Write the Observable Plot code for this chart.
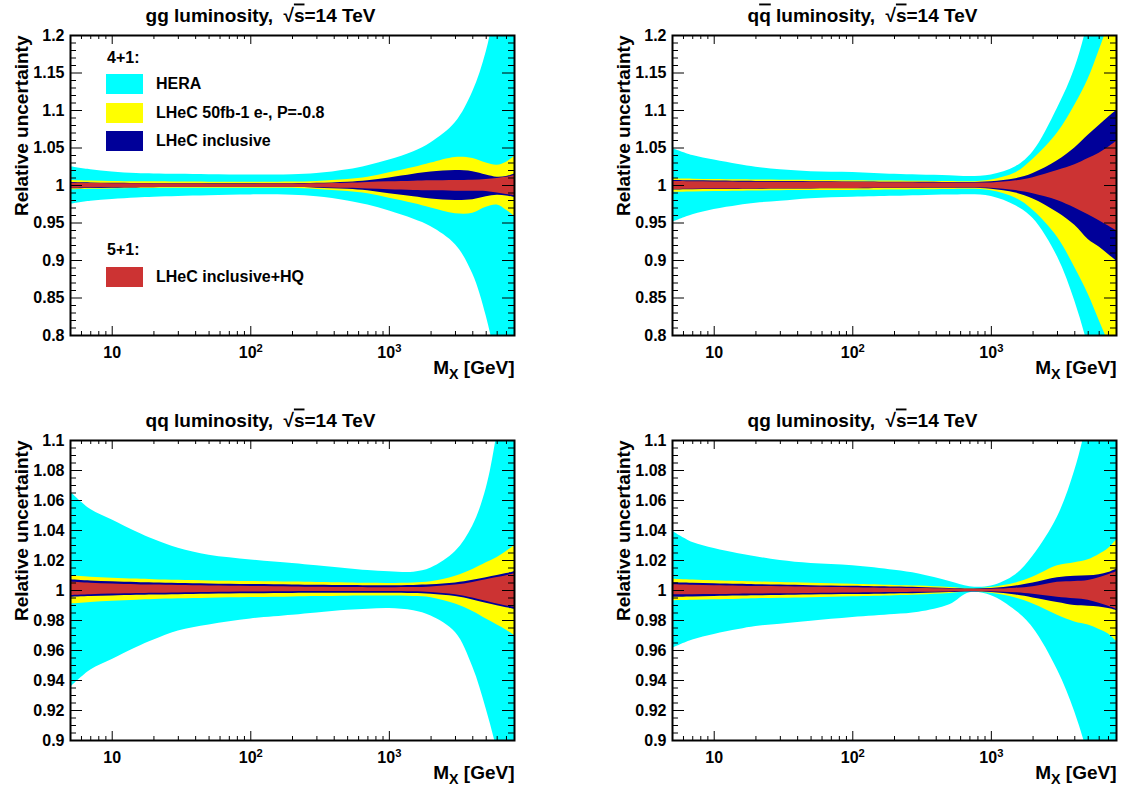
<!DOCTYPE html>
<html>
<head>
<meta charset="utf-8">
<script src="https://cdn.jsdelivr.net/npm/d3@7"></script>
<script src="https://cdn.jsdelivr.net/npm/@observablehq/plot@0.6"></script>
<style>
  body { margin: 0; background: #fff; font-family: "Liberation Sans", Arial, sans-serif; }
  #page { position: relative; width: 1121px; height: 787px; overflow: hidden; background: #fff; }
  .panel { position: absolute; }
  .leg { position: absolute; font-weight: bold; font-size: 16px; line-height: 1; white-space: nowrap; color: #000; }
  .sw { position: absolute; width: 37px; height: 20px; }
</style>
</head>
<body>
<div id="page"></div>
<script>
// ---------------- data ----------------
const M = [5, 7, 10, 15, 20, 30, 50, 100, 200, 300, 500, 700, 1000, 1500, 2000, 3000, 4000, 5000, 6000, 7000, 8000];

// gg luminosity
const ggHeraHi = [1.025, 1.021, 1.018, 1.016, 1.0155, 1.015, 1.0145, 1.014, 1.0145, 1.016, 1.021, 1.0265, 1.034, 1.045, 1.057, 1.084, 1.125, 1.178, 1.25, 1.33, 1.42];
const ggHeraLo = [0.975, 0.979, 0.9815, 0.9835, 0.9845, 0.9855, 0.9865, 0.9875, 0.987, 0.985, 0.9795, 0.974, 0.966, 0.955, 0.945, 0.921, 0.882, 0.826, 0.76, 0.69, 0.62];
const ggYelHi = [1.0067, 1.006, 1.0055, 1.005, 1.005, 1.0047, 1.0045, 1.0044, 1.0046, 1.0055, 1.008, 1.011, 1.017, 1.024, 1.030, 1.0375, 1.036, 1.030, 1.027, 1.031, 1.039];
const ggYelLo = [0.9943, 0.995, 0.9955, 0.996, 0.996, 0.9962, 0.9963, 0.9964, 0.9962, 0.9948, 0.992, 0.989, 0.983, 0.976, 0.970, 0.9625, 0.963, 0.971, 0.974, 0.967, 0.959];
const ggNavHi = [1.004, 1.0035, 1.003, 1.0027, 1.0025, 1.0023, 1.0022, 1.0022, 1.0024, 1.003, 1.0045, 1.0065, 1.010, 1.015, 1.018, 1.020, 1.0185, 1.014, 1.011, 1.012, 1.0155];
const ggNavLo = [0.9956, 0.996, 0.9965, 0.9968, 0.997, 0.9972, 0.9974, 0.9975, 0.9972, 0.9965, 0.995, 0.993, 0.989, 0.985, 0.982, 0.980, 0.981, 0.985, 0.987, 0.986, 0.984];
const ggRedHi = [1.0031, 1.0028, 1.0025, 1.0022, 1.002, 1.0019, 1.0018, 1.0018, 1.0019, 1.0022, 1.003, 1.004, 1.005, 1.0058, 1.0062, 1.0067, 1.007, 1.008, 1.0095, 1.011, 1.0135];
const ggRedLo = [0.9964, 0.9967, 0.997, 0.9971, 0.9972, 0.9973, 0.9974, 0.9974, 0.9973, 0.997, 0.9962, 0.9955, 0.9945, 0.9935, 0.993, 0.9924, 0.9922, 0.992, 0.990, 0.988, 0.9865];

// q qbar luminosity
const qqbHeraHi = [1.0495, 1.040, 1.034, 1.028, 1.0245, 1.021, 1.0185, 1.0175, 1.015, 1.014, 1.013, 1.012, 1.014, 1.025, 1.045, 1.103, 1.156, 1.22, 1.30, 1.38, 1.46];
const qqbHeraLo = [0.951, 0.961, 0.968, 0.9735, 0.9765, 0.979, 0.9825, 0.9845, 0.9858, 0.9865, 0.9872, 0.9876, 0.9854, 0.973, 0.956, 0.905, 0.846, 0.785, 0.72, 0.65, 0.58];
const qqbYelHi = [1.009, 1.0085, 1.008, 1.0076, 1.0073, 1.007, 1.0068, 1.0065, 1.006, 1.0056, 1.0052, 1.005, 1.0075, 1.017, 1.035, 1.07, 1.107, 1.142, 1.18, 1.215, 1.25];
const qqbYelLo = [0.991, 0.9915, 0.992, 0.9924, 0.9927, 0.993, 0.9932, 0.9935, 0.994, 0.9944, 0.9948, 0.995, 0.993, 0.983, 0.967, 0.931, 0.8906, 0.855, 0.82, 0.79, 0.76];
const qqbNavHi = [1.0067, 1.0063, 1.006, 1.0057, 1.0055, 1.0053, 1.0051, 1.0048, 1.0045, 1.0043, 1.004, 1.0039, 1.005, 1.009, 1.016, 1.033, 1.05, 1.067, 1.08, 1.091, 1.10];
const qqbNavLo = [0.994, 0.9943, 0.9946, 0.9948, 0.995, 0.9952, 0.9954, 0.9956, 0.9959, 0.996, 0.9962, 0.9963, 0.995, 0.990, 0.982, 0.964, 0.947, 0.928, 0.918, 0.908, 0.8995];
const qqbRedHi = [1.0053, 1.005, 1.0047, 1.0045, 1.0044, 1.0043, 1.0042, 1.004, 1.0037, 1.0035, 1.0033, 1.0032, 1.0035, 1.0062, 1.0105, 1.020, 1.0276, 1.036, 1.043, 1.051, 1.0586];
const qqbRedLo = [0.9947, 0.995, 0.9952, 0.9954, 0.9955, 0.9956, 0.9958, 0.996, 0.9962, 0.9964, 0.9966, 0.9967, 0.9965, 0.9932, 0.989, 0.980, 0.970, 0.961, 0.953, 0.946, 0.9395];

// qq luminosity
const qqHeraHi = [1.0657, 1.054, 1.047, 1.039, 1.034, 1.0282, 1.0235, 1.0204, 1.018, 1.0165, 1.0145, 1.0133, 1.0125, 1.0122, 1.015, 1.026, 1.043, 1.068, 1.105, 1.145, 1.19];
const qqHeraLo = [0.9354, 0.947, 0.954, 0.962, 0.967, 0.973, 0.977, 0.981, 0.9835, 0.985, 0.9868, 0.9875, 0.988, 0.9865, 0.983, 0.972, 0.949, 0.921, 0.893, 0.86, 0.82];
const qqYelHi = [1.0098, 1.0088, 1.0082, 1.0076, 1.0072, 1.0068, 1.0064, 1.006, 1.0056, 1.0053, 1.005, 1.0048, 1.0047, 1.005, 1.0058, 1.0095, 1.014, 1.0185, 1.022, 1.026, 1.030];
const qqYelLo = [0.991, 0.992, 0.9928, 0.9935, 0.994, 0.9945, 0.9949, 0.9953, 0.9957, 0.996, 0.9962, 0.9963, 0.9963, 0.996, 0.9952, 0.991, 0.986, 0.981, 0.977, 0.9735, 0.970];
const qqNavHi = [1.0071, 1.0063, 1.0058, 1.0053, 1.005, 1.0047, 1.0044, 1.004, 1.0037, 1.0035, 1.0033, 1.0032, 1.0032, 1.0034, 1.0038, 1.005, 1.0068, 1.0085, 1.010, 1.0113, 1.0125];
const qqNavLo = [0.9955, 0.996, 0.9964, 0.9968, 0.997, 0.9972, 0.9975, 0.9978, 0.998, 0.9981, 0.9982, 0.9982, 0.9982, 0.998, 0.9975, 0.996, 0.9937, 0.9915, 0.9898, 0.9885, 0.9875];
const qqRedHi = [1.0057, 1.0049, 1.0044, 1.0039, 1.0036, 1.0033, 1.003, 1.0027, 1.0024, 1.0022, 1.002, 1.0019, 1.0019, 1.002, 1.0024, 1.0036, 1.0054, 1.0071, 1.0086, 1.0099, 1.0111];
const qqRedLo = [0.9967, 0.9972, 0.9976, 0.998, 0.9982, 0.9984, 0.9987, 0.999, 0.9992, 0.9993, 0.9994, 0.9994, 0.9994, 0.9992, 0.9987, 0.9972, 0.995, 0.9928, 0.991, 0.9897, 0.9888];

// qg luminosity
const qgHeraHi = [1.0395, 1.032, 1.028, 1.0245, 1.0225, 1.020, 1.018, 1.0165, 1.0135, 1.011, 1.006, 1.0025, 1.003, 1.0105, 1.023, 1.049, 1.080, 1.115, 1.15, 1.19, 1.23];
const qgHeraLo = [0.9615, 0.967, 0.9707, 0.974, 0.976, 0.9775, 0.9795, 0.982, 0.984, 0.9855, 0.9905, 0.9985, 0.9965, 0.9865, 0.975, 0.947, 0.919, 0.89, 0.86, 0.83, 0.80];
const qgYelHi = [1.0075, 1.007, 1.0065, 1.006, 1.0057, 1.0053, 1.0048, 1.0042, 1.0034, 1.003, 1.002, 1.0012, 1.002, 1.005, 1.009, 1.0165, 1.0185, 1.0205, 1.024, 1.028, 1.0337];
const qgYelLo = [0.9932, 0.9935, 0.9938, 0.9942, 0.9945, 0.9948, 0.9952, 0.9958, 0.9965, 0.997, 0.998, 0.9992, 0.9982, 0.995, 0.991, 0.9835, 0.979, 0.977, 0.974, 0.971, 0.966];
const qgNavHi = [1.0051, 1.0048, 1.0045, 1.0041, 1.0039, 1.0036, 1.0032, 1.0028, 1.0023, 1.002, 1.0014, 1.001, 1.0013, 1.003, 1.005, 1.0085, 1.0095, 1.0098, 1.0105, 1.012, 1.0142];
const qgNavLo = [0.9955, 0.9957, 0.996, 0.9963, 0.9965, 0.9967, 0.997, 0.9973, 0.9977, 0.998, 0.9986, 0.999, 0.9987, 0.997, 0.995, 0.992, 0.990, 0.9895, 0.989, 0.988, 0.9867];
const qgRedHi = [1.0038, 1.0035, 1.0032, 1.0029, 1.0027, 1.0025, 1.0022, 1.0019, 1.0015, 1.0013, 1.001, 1.0007, 1.0008, 1.0015, 1.0025, 1.0055, 1.006, 1.0067, 1.0085, 1.0105, 1.0125];
const qgRedLo = [0.9971, 0.9972, 0.9973, 0.9975, 0.9976, 0.9978, 0.998, 0.9983, 0.9986, 0.9988, 0.999, 0.9993, 0.9992, 0.9985, 0.9975, 0.9955, 0.9945, 0.9935, 0.9915, 0.9895, 0.9875];

const bandNames = ["HERA", "LHeC 50fb-1 e-, P=-0.8", "LHeC inclusive", "LHeC inclusive+HQ"];
const bandColors = ["#00ffff", "#ffff00", "#000099", "#cc3333"];

// axes
const xDomain = [5, 8000];
const xMajor = [10, 100, 1000];
const xLabels = [[{t: "10"}], [{t: "10"}, {t: "2", sup: true}], [{t: "10"}, {t: "3", sup: true}]];
const xMinor = [6, 7, 8, 9, 20, 30, 40, 50, 60, 70, 80, 90, 200, 300, 400, 500, 600, 700, 800, 900, 2000, 3000, 4000, 5000, 6000, 7000];
const yMajorWide = [0.8, 0.85, 0.9, 0.95, 1, 1.05, 1.1, 1.15, 1.2];
const yLabelsWide = ["0.8", "0.85", "0.9", "0.95", "1", "1.05", "1.1", "1.15", "1.2"];
const yMinorWide = d3.range(80, 121).filter(k => k % 5 !== 0).map(k => k / 100);
const yMajorNarrow = [0.9, 0.92, 0.94, 0.96, 0.98, 1, 1.02, 1.04, 1.06, 1.08, 1.1];
const yLabelsNarrow = ["0.9", "0.92", "0.94", "0.96", "0.98", "1", "1.02", "1.04", "1.06", "1.08", "1.1"];
const yMinorNarrow = d3.range(180, 221).filter(k => k % 4 !== 0).map(k => k / 200);

const yTitle = "Relative uncertainty";
const xTitleParts = [{t: "M"}, {t: "X", sub: true}, {t: " [GeV]", back: true}];

// ---------------- panels ----------------
const FW = 444, FH = 300;
const panels = [
  {x: 0, y: 0, w: 560, h: 393, mt: 35, mb: 58, ml: 70, mr: 46, ydom: [0.8, 1.2],
   major: yMajorWide, labels: yLabelsWide, minor: yMinorWide,
   title: [{t: "gg luminosity,  √"}, {t: "s", over: true}, {t: "=14 TeV"}],
   bands: [[ggHeraHi, ggHeraLo], [ggYelHi, ggYelLo], [ggNavHi, ggNavLo], [ggRedHi, ggRedLo]]},
  {x: 560, y: 0, w: 561, h: 393, mt: 35, mb: 58, ml: 112, mr: 5, ydom: [0.8, 1.2],
   major: yMajorWide, labels: yLabelsWide, minor: yMinorWide,
   title: [{t: "q"}, {t: "q", over: true}, {t: " luminosity,  √"}, {t: "s", over: true}, {t: "=14 TeV"}],
   bands: [[qqbHeraHi, qqbHeraLo], [qqbYelHi, qqbYelLo], [qqbNavHi, qqbNavLo], [qqbRedHi, qqbRedLo]]},
  {x: 0, y: 393, w: 560, h: 394, mt: 47, mb: 47, ml: 70, mr: 46, ydom: [0.9, 1.1],
   major: yMajorNarrow, labels: yLabelsNarrow, minor: yMinorNarrow,
   title: [{t: "qq luminosity,  √"}, {t: "s", over: true}, {t: "=14 TeV"}],
   bands: [[qqHeraHi, qqHeraLo], [qqYelHi, qqYelLo], [qqNavHi, qqNavLo], [qqRedHi, qqRedLo]]},
  {x: 560, y: 393, w: 561, h: 394, mt: 47, mb: 47, ml: 112, mr: 5, ydom: [0.9, 1.1],
   major: yMajorNarrow, labels: yLabelsNarrow, minor: yMinorNarrow,
   title: [{t: "qg luminosity,  √"}, {t: "s", over: true}, {t: "=14 TeV"}],
   bands: [[qgHeraHi, qgHeraLo], [qgYelHi, qgYelLo], [qgNavHi, qgNavLo], [qgRedHi, qgRedLo]]}
];

function rows(hi, lo) { return M.map((m, i) => ({m, hi: hi[i], lo: lo[i]})); }

function richify(svg, parts) {
  const plain = parts.map(p => p.t).join("");
  d3.select(svg).selectAll("text").filter(function() { return this.textContent === plain; }).each(function() {
    const t = d3.select(this);
    t.text(null).attr("xml:space", "preserve").style("white-space", "pre");
    for (const p of parts) {
      const s = t.append("tspan").text(p.t);
      if (p.over) s.style("text-decoration", "overline");
      if (p.sub) s.attr("font-size", "0.75em").attr("dy", "5");
      if (p.back) s.attr("dy", "-5");
      if (p.sup) s.attr("font-size", "0.7em").attr("dy", "-6");
    }
  });
}

const page = document.getElementById("page");
for (const p of panels) {
  const titleText = p.title.map(d => d.t).join("");
  const xTitleText = xTitleParts.map(d => d.t).join("");
  const marks = [
    ...p.bands.map((b, i) => Plot.areaY(rows(b[0], b[1]), {x: "m", y1: "lo", y2: "hi", fill: bandColors[i], curve: "catmull-rom", clip: true})),
    Plot.ruleY(p.major, {insetRight: FW - 12, stroke: "#000", strokeWidth: 1}),
    Plot.ruleY(p.major, {insetLeft: FW - 12, stroke: "#000", strokeWidth: 1}),
    Plot.ruleY(p.minor, {insetRight: FW - 6, stroke: "#000", strokeWidth: 1}),
    Plot.ruleY(p.minor, {insetLeft: FW - 6, stroke: "#000", strokeWidth: 1}),
    Plot.ruleX(xMajor, {insetTop: FH - 9, stroke: "#000", strokeWidth: 1}),
    Plot.ruleX(xMajor, {insetBottom: FH - 9, stroke: "#000", strokeWidth: 1}),
    Plot.ruleX(xMinor, {insetTop: FH - 4, stroke: "#000", strokeWidth: 1}),
    Plot.ruleX(xMinor, {insetBottom: FH - 4, stroke: "#000", strokeWidth: 1}),
    Plot.axisY(p.major, {anchor: "left", tickSize: 0, tickPadding: 6, label: null, fontSize: 16,
      tickFormat: d => p.labels[p.major.indexOf(d)]}),
    Plot.axisX(xMajor, {anchor: "bottom", tickSize: 0, tickPadding: 11, label: null, fontSize: 16,
      tickFormat: d => xLabels[xMajor.indexOf(d)].map(q => q.t).join("")}),
    Plot.text([titleText], {frameAnchor: "top-left", dx: 190, dy: -14, textAnchor: "middle", lineAnchor: "bottom", fontSize: 19, fontWeight: "bold"}),
    Plot.text([yTitle], {frameAnchor: "top-left", dx: -43, rotate: -90, textAnchor: "end", lineAnchor: "bottom", fontSize: 19, fontWeight: "bold"}),
    Plot.text([xTitleText], {frameAnchor: "bottom-right", dy: 38, textAnchor: "end", lineAnchor: "bottom", fontSize: 19, fontWeight: "bold"}),
    Plot.frame({stroke: "#000", strokeWidth: 2})
  ];
  const svg = Plot.plot({
    width: p.w, height: p.h,
    marginTop: p.mt, marginBottom: p.mb, marginLeft: p.ml, marginRight: p.mr,
    x: {type: "log", domain: xDomain},
    y: {domain: p.ydom},
    style: {fontFamily: "'Liberation Sans', Arial, sans-serif", fontWeight: "bold", fontSize: "16px", background: "white", color: "#000", overflow: "visible"},
    marks
  });
  richify(svg, p.title);
  richify(svg, xTitleParts);
  for (const lab of xLabels) if (lab.length > 1) richify(svg, lab);
  const div = document.createElement("div");
  div.className = "panel";
  div.style.left = p.x + "px";
  div.style.top = p.y + "px";
  div.style.width = p.w + "px";
  div.style.height = p.h + "px";
  div.appendChild(svg);
  page.appendChild(div);
}

// ---------------- legend (top-left panel) ----------------
const legendHeaders = [{t: "4+1:", top: 50}, {t: "5+1:", top: 242}];
const legendRows = [
  {i: 0, top: 74}, {i: 1, top: 103}, {i: 2, top: 131}, {i: 3, top: 267}
];
for (const h of legendHeaders) {
  const d = document.createElement("div");
  d.className = "leg"; d.textContent = h.t;
  d.style.left = "107px"; d.style.top = h.top + "px";
  page.appendChild(d);
}
for (const r of legendRows) {
  const s = document.createElement("div");
  s.className = "sw"; s.style.left = "106px"; s.style.top = r.top + "px"; s.style.background = bandColors[r.i];
  page.appendChild(s);
  const d = document.createElement("div");
  d.className = "leg"; d.textContent = bandNames[r.i];
  d.style.left = "156px"; d.style.top = (r.top + 2) + "px";
  page.appendChild(d);
}
</script>
</body>
</html>
